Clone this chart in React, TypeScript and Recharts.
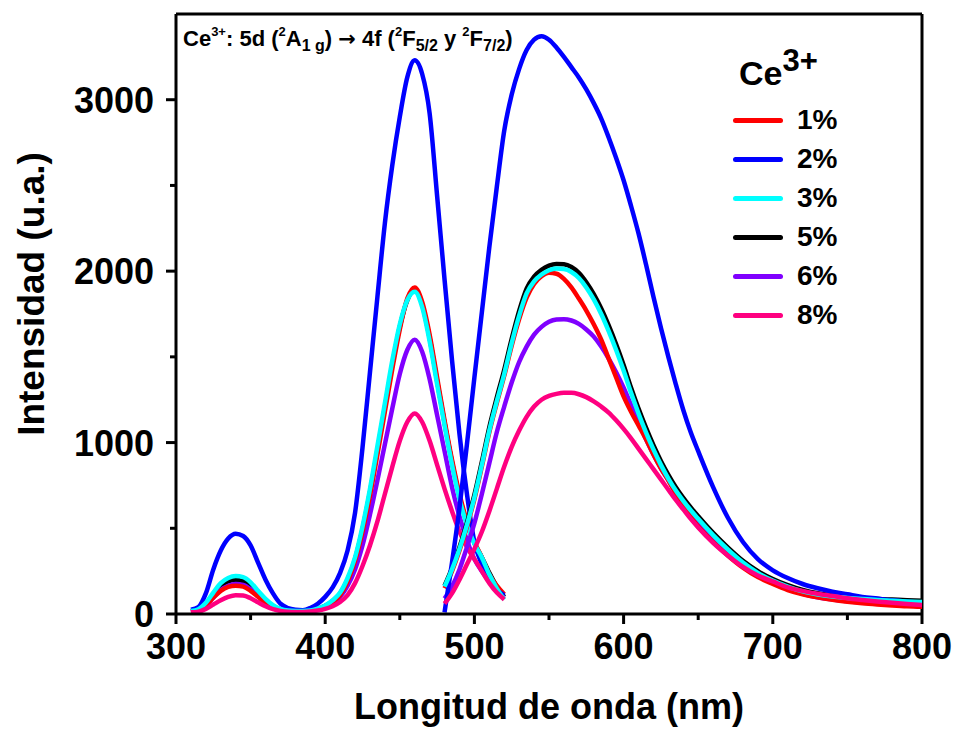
import { LineChart, Line, XAxis, YAxis, ReferenceLine } from 'recharts'

// excitation spectra, 310–520 nm
const excNm = [
  310, 315, 320, 325, 330, 335, 340, 345, 350, 355, 360, 365, 370, 375, 380, 385, 390, 395, 400, 405, 410, 415,
  420, 425, 430, 435, 440, 445, 450, 455, 460, 465, 470, 475, 480, 485, 490, 495, 500, 505, 510, 515, 520
]
const excRed = [
  15, 22, 50, 95, 135, 158, 165, 160, 135, 100, 65, 40, 25, 18, 15, 15, 18, 28, 45, 70, 110, 190,
  310, 480, 690, 930, 1180, 1430, 1660, 1840, 1905, 1820, 1630, 1380, 1130, 900, 700, 540, 420, 330, 230, 165, 115
]
const excBlue = [
  25, 40, 120, 260, 370, 440, 468, 455, 400, 300, 200, 120, 60, 35, 25, 22, 35, 60, 100, 155, 240, 370,
  590, 970, 1410, 1850, 2280, 2620, 2900, 3130, 3230, 3150, 2920, 2440, 1950, 1480, 1050, 700, 420, 290, 190, 140, 110
]
const excCyan = [
  18, 28, 65, 125, 180, 210, 221, 215, 185, 135, 88, 52, 30, 20, 17, 17, 20, 32, 50, 80, 125, 210,
  330, 510, 730, 980, 1230, 1480, 1690, 1830, 1880, 1790, 1590, 1340, 1100, 870, 670, 520, 410, 330, 230, 150, 85
]
const excBlack = [
  16, 25, 58, 112, 162, 190, 198, 192, 165, 120, 78, 46, 28, 19, 16, 16, 19, 30, 48, 76, 120, 200,
  320, 495, 710, 955, 1205, 1455, 1675, 1830, 1890, 1805, 1610, 1360, 1115, 885, 685, 530, 415, 330, 240, 160, 100
]
const excPurple = [
  15, 20, 50, 95, 140, 165, 175, 170, 145, 105, 70, 42, 26, 18, 15, 15, 18, 27, 42, 65, 100, 165,
  260, 400, 580, 780, 990, 1200, 1400, 1540, 1600, 1530, 1370, 1160, 950, 740, 570, 430, 320, 250, 190, 135, 95
]
const excPink = [
  10, 14, 30, 55, 80, 100, 110, 108, 92, 68, 45, 28, 18, 13, 12, 12, 14, 20, 30, 45, 70, 110,
  180, 280, 400, 540, 700, 860, 1010, 1120, 1170, 1120, 1010, 870, 730, 600, 480, 390, 320, 250, 180, 125, 85
]

// emission spectra, 480–800 nm
const emNm = [
  480, 485, 490, 495, 500, 505, 510, 515, 520, 525, 530, 535, 540, 545, 550, 555, 560, 565, 570, 575, 580, 585,
  590, 595, 600, 605, 610, 615, 620, 625, 630, 635, 640, 645, 650, 660, 670, 680, 690, 700, 710, 720, 730, 740,
  750, 760, 770, 780, 790, 800
]
const emRed = [
  150, 250, 370, 510, 670, 860, 1060, 1230, 1390, 1565, 1720, 1845, 1925, 1970, 1990, 1985, 1955, 1905, 1840, 1770, 1690, 1600,
  1490, 1380, 1270, 1180, 1100, 1020, 930, 850, 780, 700, 630, 565, 510, 420, 340, 270, 215, 175, 140, 115, 97, 83,
  72, 63, 56, 50, 45, 42
]
const emBlue = [
  10, 300, 620, 990, 1380, 1760, 2140, 2490, 2820, 3030, 3180, 3290, 3350, 3370, 3350, 3305, 3250, 3190, 3130, 3060, 2980, 2890,
  2780, 2660, 2530, 2380, 2220, 2040, 1850, 1670, 1500, 1340, 1190, 1060, 950, 740, 560, 420, 320, 255, 210, 175, 150, 130,
  115, 100, 90, 80, 72, 65
]
const emCyan = [
  160, 260, 380, 520, 680, 870, 1070, 1240, 1400, 1580, 1740, 1870, 1940, 1980, 2005, 2015, 2012, 1995, 1960, 1905, 1835, 1750,
  1650, 1540, 1420, 1290, 1170, 1060, 960, 870, 790, 720, 660, 605, 555, 460, 375, 300, 240, 195, 160, 132, 114, 102,
  94, 87, 81, 77, 73, 70
]
const emBlack = [
  165, 268, 390, 532, 695, 888, 1090, 1262, 1425, 1605, 1768, 1898, 1968, 2008, 2032, 2042, 2040, 2024, 1990, 1935, 1866, 1782,
  1683, 1573, 1452, 1320, 1198, 1087, 985, 893, 812, 740, 678, 622, 570, 473, 387, 310, 250, 204, 168, 140, 121, 109,
  101, 94, 88, 84, 80, 77
]
const emPurple = [
  90, 160, 260, 390, 530, 700, 880, 1060, 1210, 1350, 1470, 1560, 1630, 1675, 1705, 1718, 1720, 1712, 1692, 1660, 1618, 1560,
  1490, 1410, 1320, 1220, 1120, 1020, 930, 850, 780, 710, 640, 580, 525, 430, 350, 280, 225, 180, 145, 118, 98, 85,
  75, 68, 62, 58, 55, 52
]
const emPink = [
  60, 120, 200, 290, 380, 480, 600, 730, 860, 975, 1070, 1150, 1210, 1250, 1272, 1284, 1290, 1290, 1282, 1265, 1240, 1210,
  1175, 1130, 1080, 1025, 965, 905, 845, 785, 725, 665, 610, 555, 505, 415, 340, 275, 225, 190, 155, 135, 118, 105,
  92, 82, 73, 65, 58, 52
]

const xTicks = [300, 350, 400, 450, 500, 550, 600, 650, 700, 750, 800]
const yTicks = [0, 500, 1000, 1500, 2000, 2500, 3000]

const legendLabels = ['1%', '2%', '3%', '5%', '6%', '8%']
const legendKeys = ['p1', 'p2', 'p3', 'p5', 'p6', 'p8']
const COLORS: Record<string, string> = {
  p1: '#ff0000',
  p2: '#0000ff',
  p3: '#00ffff',
  p5: '#000000',
  p6: '#8000ff',
  p8: '#ff0080'
}
// back to front
const DRAW_ORDER = ['p5', 'p6', 'p1', 'p2', 'p3', 'p8']

const excData = excNm.map((nm, i) => ({
  nm,
  p1: excRed[i],
  p2: excBlue[i],
  p3: excCyan[i],
  p5: excBlack[i],
  p6: excPurple[i],
  p8: excPink[i]
}))

const emData = emNm.map((nm, i) => ({
  nm,
  p1: emRed[i],
  p2: emBlue[i],
  p3: emCyan[i],
  p5: emBlack[i],
  p6: emPurple[i],
  p8: emPink[i]
}))

const FONT = "'Liberation Sans', Arial, Helvetica, sans-serif"

const XTick = ({ x, y, payload }: any) => {
  const major = payload.value % 100 === 0
  return (
    <g>
      <line x1={x} x2={x} y1={y} y2={y + (major ? 10 : 6)} stroke="#000" strokeWidth={3} />
      {major && (
        <text x={x} y={y + 45} textAnchor="middle" fontSize={36} fontWeight="bold" fontFamily={FONT} fill="#000">
          {payload.value}
        </text>
      )}
    </g>
  )
}

const YTick = ({ x, y, payload }: any) => {
  const major = payload.value % 1000 === 0
  return (
    <g>
      <line x1={x - (major ? 10 : 6)} x2={x} y1={y} y2={y} stroke="#000" strokeWidth={3} />
      {major && (
        <text x={x - 22} y={y + 13} textAnchor="end" fontSize={36} fontWeight="bold" fontFamily={FONT} fill="#000">
          {payload.value}
        </text>
      )}
    </g>
  )
}

const sup = { fontSize: 13, position: 'relative' as const, top: -10 }
const sub = { fontSize: 16, position: 'relative' as const, top: 5 }

export default function App() {
  return (
    <div style={{ position: 'absolute', left: 0, top: 0, width: 954, height: 730, background: '#fff', fontFamily: FONT }}>
      <LineChart width={954} height={730} margin={{ top: 14, right: 32, left: 0, bottom: 0 }}>
        <XAxis
          dataKey="nm"
          type="number"
          domain={[300, 800]}
          ticks={xTicks}
          interval={0}
          allowDataOverflow
          height={116}
          tickSize={0}
          tickMargin={0}
          tickLine={false}
          tick={<XTick />}
          axisLine={{ stroke: '#000', strokeWidth: 3 }}
        />
        <YAxis
          type="number"
          domain={[0, 3500]}
          ticks={yTicks}
          interval={0}
          allowDataOverflow
          width={176}
          tickSize={0}
          tickMargin={0}
          tickLine={false}
          tick={<YTick />}
          axisLine={{ stroke: '#000', strokeWidth: 3 }}
        />
        {/* closing frame: top and right edges */}
        <ReferenceLine y={3500} stroke="#000" strokeWidth={3} ifOverflow="visible" />
        <ReferenceLine x={800} stroke="#000" strokeWidth={3} ifOverflow="visible" />
        {DRAW_ORDER.map((k) => (
          <Line
            key={`exc-${k}`}
            data={excData}
            dataKey={k}
            type="monotone"
            stroke={COLORS[k]}
            strokeWidth={4.5}
            dot={false}
            activeDot={false}
            isAnimationActive={false}
          />
        ))}
        {DRAW_ORDER.map((k) => (
          <Line
            key={`em-${k}`}
            data={emData}
            dataKey={k}
            type="monotone"
            stroke={COLORS[k]}
            strokeWidth={4.5}
            dot={false}
            activeDot={false}
            isAnimationActive={false}
          />
        ))}
      </LineChart>

      {/* axis titles */}
      <div
        style={{
          position: 'absolute',
          left: 549,
          top: 689,
          transform: 'translateX(-50%)',
          fontSize: 36,
          fontWeight: 'bold',
          lineHeight: 1,
          whiteSpace: 'nowrap'
        }}
      >
        Longitud de onda (nm)
      </div>
      <div
        style={{
          position: 'absolute',
          left: 31,
          top: 294,
          transform: 'translate(-50%, -50%) rotate(-90deg)',
          fontSize: 37,
          fontWeight: 'bold',
          lineHeight: 1,
          whiteSpace: 'nowrap'
        }}
      >
        Intensidad (u.a.)
      </div>

      {/* transition note */}
      <div
        style={{
          position: 'absolute',
          left: 183,
          top: 28,
          fontSize: 22,
          fontWeight: 'bold',
          lineHeight: 1,
          whiteSpace: 'nowrap'
        }}
      >
        Ce<span style={sup}>3+</span>: 5d (<span style={sup}>2</span>A<span style={sub}>1 g</span>){' '}
        <span style={{ fontFamily: "'DejaVu Sans', sans-serif", fontSize: 21 }}>→</span> 4f (<span style={sup}>2</span>F
        <span style={sub}>5/2</span> y <span style={sup}>2</span>F<span style={sub}>7/2</span>)
      </div>

      {/* legend */}
      <div style={{ position: 'absolute', left: 739, top: 56, fontSize: 34, fontWeight: 'bold', lineHeight: 1, whiteSpace: 'nowrap' }}>
        Ce<span style={{ fontSize: 31, position: 'relative', top: -14 }}>3+</span>
      </div>
      {legendKeys.map((k, i) => (
        <div key={k}>
          <div
            style={{
              position: 'absolute',
              left: 733,
              top: 120 + i * 39 - 2.5,
              width: 50,
              height: 5,
              borderRadius: 3,
              background: COLORS[k]
            }}
          />
          <div
            style={{
              position: 'absolute',
              left: 797,
              top: 120 + i * 39 - 14,
              fontSize: 28,
              fontWeight: 'bold',
              lineHeight: 1
            }}
          >
            {legendLabels[i]}
          </div>
        </div>
      ))}
    </div>
  )
}
